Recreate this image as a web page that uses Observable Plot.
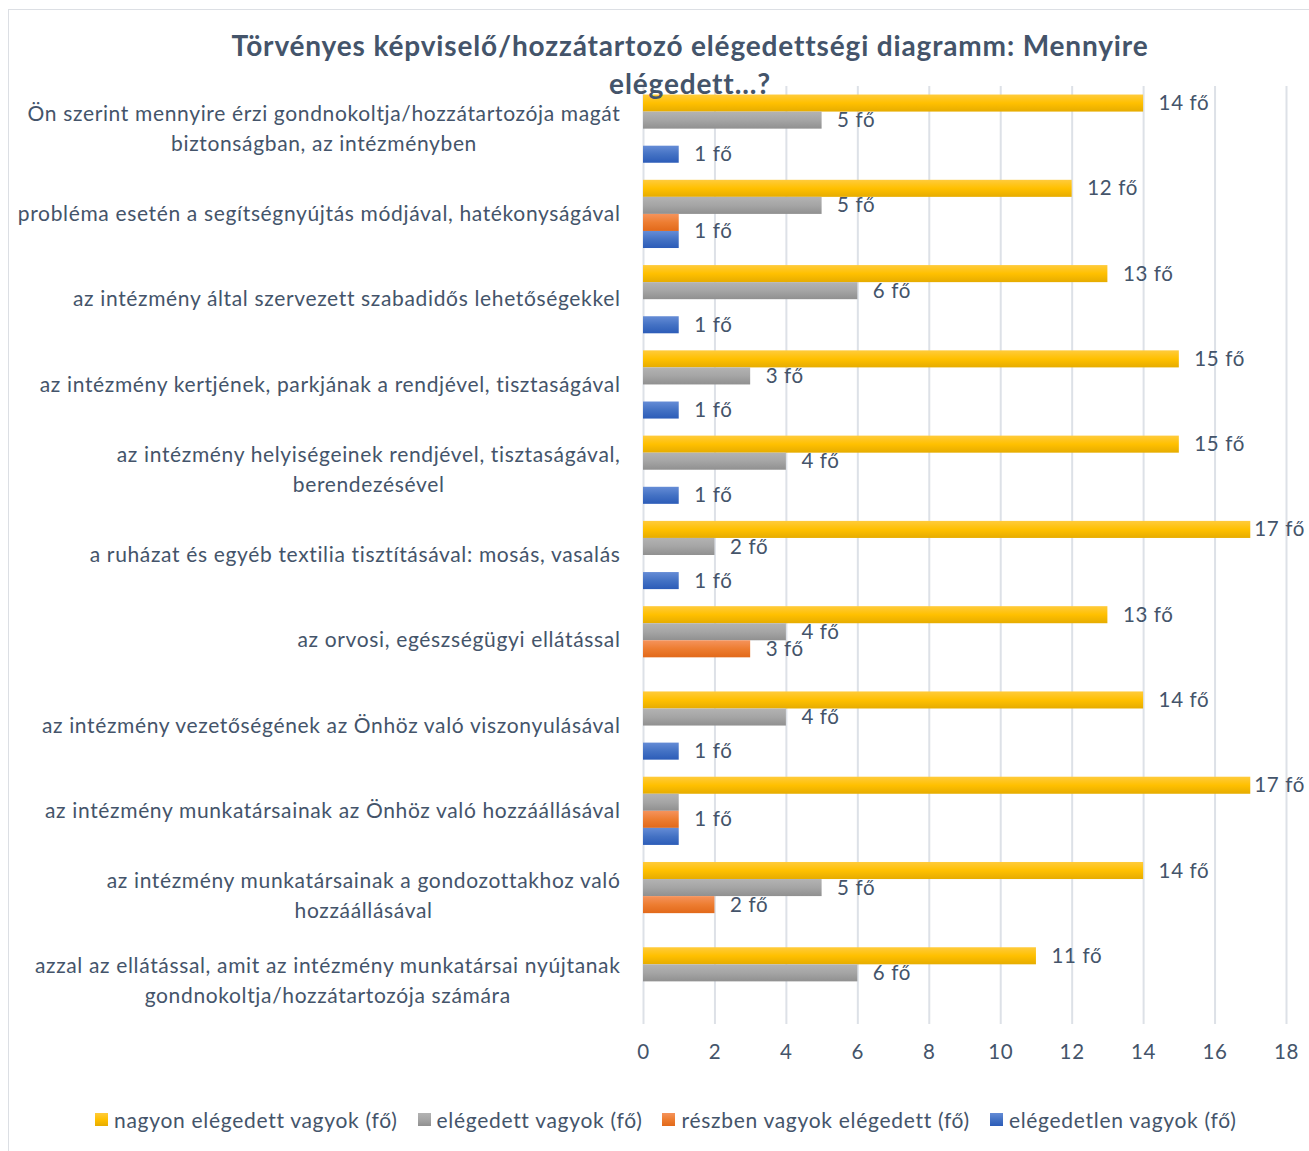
<!DOCTYPE html>
<html>
<head>
<meta charset="utf-8">
<script src="https://cdn.jsdelivr.net/npm/d3@7"></script>
<script src="https://cdn.jsdelivr.net/npm/@observablehq/plot@0.6"></script>
<style>
  html, body { margin: 0; padding: 0; background: #fff; }
  #wrap { position: relative; width: 1309px; height: 1151px; overflow: hidden; background: #fff; font-family: Lato, "Open Sans", sans-serif; color: #44546A; }
  #frame { position: absolute; left: 8px; top: 9px; width: 1400px; height: 1300px; border: 1.5px solid #dcdfe4; box-sizing: border-box; }
  #chart { position: absolute; left: 0; top: 0; }
  #title { position: absolute; left: 0; top: 26px; width: 1380px; text-align: center; font-weight: 700; font-size: 28px; letter-spacing: 0.85px; line-height: 38px; color: #44546A; }
  #legend { position: absolute; left: 95px; top: 1107px; display: flex; align-items: center; font-size: 21px; letter-spacing: 0.7px; color: #44546A; white-space: nowrap; }
  .li { display: flex; align-items: center; margin-right: 20px; }
  .sw { width: 13px; height: 13px; margin-right: 6px; }
  #chart svg text { letter-spacing: 0.65px; }
</style>
</head>
<body>
<div id="wrap">
  <div id="frame"></div>
  <div id="chart"></div>
  <div id="title">Törvényes képviselő/hozzátartozó elégedettségi diagramm: Mennyire<br>elégedett...?</div>
  <div id="legend"></div>
</div>
<script>
// ---- data ----
const categories = [
  "Ön szerint mennyire érzi gondnokoltja/hozzátartozója magát\nbiztonságban, az intézményben",
  "probléma esetén a segítségnyújtás módjával, hatékonyságával",
  "az intézmény által szervezett szabadidős lehetőségekkel",
  "az intézmény kertjének, parkjának a rendjével, tisztaságával",
  "az intézmény helyiségeinek rendjével, tisztaságával,\nberendezésével",
  "a ruházat és egyéb textilia tisztításával: mosás, vasalás",
  "az orvosi, egészségügyi ellátással",
  "az intézmény vezetőségének az Önhöz való viszonyulásával",
  "az intézmény munkatársainak az Önhöz való hozzáállásával",
  "az intézmény munkatársainak a gondozottakhoz való\nhozzáállásával",
  "azzal az ellátással, amit az intézmény munkatársai nyújtanak\ngondnokoltja/hozzátartozója számára"
];
const seriesNames = [
  "nagyon elégedett vagyok (fő)",
  "elégedett vagyok (fő)",
  "részben vagyok elégedett (fő)",
  "elégedetlen vagyok (fő)"
];
const nagyonElegedett = [14, 12, 13, 15, 15, 17, 13, 14, 17, 14, 11];
const elegedett       = [5, 5, 6, 3, 4, 2, 4, 4, 1, 5, 6];
const reszben         = [0, 1, 0, 0, 0, 0, 3, 0, 1, 2, 0];
const elegedetlen     = [1, 1, 1, 1, 1, 1, 0, 1, 1, 0, 0];
const xTicks = [0, 2, 4, 6, 8, 10, 12, 14, 16, 18];
const unit = "fő";

// ---- styles ----
const gradients = [
  ["#ffcb3c", "#ffc000", "#e6ac00"],
  ["#b3b3b3", "#a5a5a5", "#909090"],
  ["#f5935c", "#ed7d31", "#e2691a"],
  ["#658cd6", "#4472c4", "#2c5cb8"]
];
const textColor = "#44546A";

const seriesValues = [nagyonElegedett, elegedett, reszben, elegedetlen];
const SLOT = 5; // 4 bars + gap per category
const rows = categories.flatMap((c, i) =>
  seriesValues.map((vals, k) => ({cat: i, k, v: vals[i]}))
).filter(d => d.v > 0);

// labels: consecutive equal values within a category share one label
const labels = [];
categories.forEach((c, i) => {
  let k = 0;
  while (k < seriesValues.length) {
    const v = seriesValues[k][i];
    if (v > 0) {
      let e = k;
      while (e + 1 < seriesValues.length && seriesValues[e + 1][i] === v) e++;
      labels.push({cat: i, v, y: SLOT * i + 0.5 + (k + e + 1) / 2});
      k = e + 1;
    } else k++;
  }
});

function defsMark() {
  const ns = "http://www.w3.org/2000/svg";
  const defs = document.createElementNS(ns, "defs");
  gradients.forEach((g, k) => {
    const lg = document.createElementNS(ns, "linearGradient");
    lg.setAttribute("id", "g" + k);
    lg.setAttribute("x1", "0"); lg.setAttribute("y1", "0");
    lg.setAttribute("x2", "0"); lg.setAttribute("y2", "1");
    [[0, g[0]], [0.5, g[1]], [1, g[2]]].forEach(([o, c]) => {
      const s = document.createElementNS(ns, "stop");
      s.setAttribute("offset", o);
      s.setAttribute("stop-color", c);
      lg.appendChild(s);
    });
    defs.appendChild(lg);
  });
  return defs;
}

const chart = Plot.plot({
  width: 1309,
  height: 1086,
  marginLeft: 643,
  marginRight: 23,
  marginTop: 86,
  marginBottom: 62,
  style: {fontFamily: "Lato, 'Open Sans', sans-serif", fontSize: "20px", color: textColor, background: "transparent", overflow: "visible"},
  x: {domain: [0, 18], axis: null, label: null},
  y: {domain: [0, SLOT * categories.length], reverse: true, axis: null, label: null},
  marks: [
    defsMark,
    Plot.gridX({ticks: xTicks, stroke: "#dde1e7", strokeOpacity: 1, strokeWidth: 2}),
    ...seriesValues.map((_, k) =>
      Plot.rect(rows.filter(d => d.k === k), {
        x1: 0, x2: "v",
        y1: d => SLOT * d.cat + 0.5 + d.k,
        y2: d => SLOT * d.cat + 1.5 + d.k,
        fill: `url(#g${k})`
      })
    ),
    Plot.text(labels, {
      x: "v", y: "y", text: d => `${d.v} ${unit}`,
      textAnchor: "start", dx: 15, fill: textColor, fontSize: 20.5, lineAnchor: "middle"
    }),
    Plot.axisX({ticks: xTicks, tickSize: 0, tickPadding: 20, fontSize: 20.5, anchor: "bottom", label: null}),
    Plot.axisY({
      ticks: categories.map((_, i) => SLOT * i + SLOT / 2),
      tickFormat: v => categories[Math.round((v - SLOT / 2) / SLOT)],
      tickSize: 0, tickPadding: 23, fontSize: 21, lineHeight: 1.43, anchor: "left", dy: -3, label: null
    })
  ]
});

document.getElementById("chart").appendChild(chart);

// center multi-line category labels while keeping the right edge aligned
chart.querySelectorAll('g[aria-label="y-axis tick label"] text').forEach(t => {
  t.setAttribute("text-anchor", "middle");
  t.style.textAnchor = "middle";
  const w = t.getBBox().width;
  const tr = t.getAttribute("transform") || "";
  t.setAttribute("transform", tr + ` translate(${-w / 2},0)`);
});

// keep value labels inside the chart area (as the original does near the right edge)
const svgLeft = chart.getBoundingClientRect().left;
chart.querySelectorAll('g[aria-label="text"] text').forEach(t => {
  const b = t.getBoundingClientRect();
  const over = b.right - (svgLeft + 1305);
  if (over > 0) {
    const tr = t.getAttribute("transform") || "";
    t.setAttribute("transform", tr + ` translate(${-over},0)`);
  }
});

// legend
const legend = document.getElementById("legend");
seriesNames.forEach((name, k) => {
  const item = document.createElement("div");
  item.className = "li";
  const sw = document.createElement("div");
  sw.className = "sw";
  sw.style.background = `linear-gradient(${gradients[k][0]}, ${gradients[k][1]}, ${gradients[k][2]})`;
  const tx = document.createElement("span");
  tx.textContent = name;
  item.appendChild(sw);
  item.appendChild(tx);
  legend.appendChild(item);
});
</script>
</body>
</html>
